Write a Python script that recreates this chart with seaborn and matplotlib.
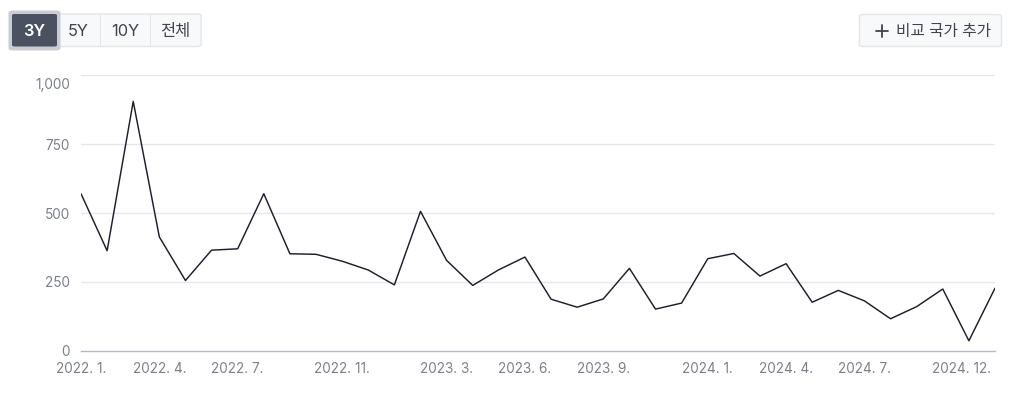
import matplotlib
matplotlib.use("Agg")
import matplotlib.pyplot as plt
import seaborn as sns
import pandas as pd
import numpy as np
from matplotlib.patches import FancyBboxPatch, Rectangle
from matplotlib.lines import Line2D
from matplotlib.transforms import offset_copy

months = [f"{y}-{m:02d}" for y in (2022, 2023, 2024) for m in range(1, 13)]
values = [570, 363, 905, 413, 255, 365, 370, 570, 352, 350, 325, 293,
          239, 506, 328, 237, 294, 340, 187, 158, 188, 299, 151, 173,
          334, 353, 271, 316, 176, 219, 181, 116, 160, 224, 36, 227]
tick_months = ["2022-01", "2022-04", "2022-07", "2022-11", "2023-03", "2023-06",
               "2023-09", "2024-01", "2024-04", "2024-07", "2024-12"]
tick_labels = ["2022. 1.", "2022. 4.", "2022. 7.", "2022. 11.", "2023. 3.", "2023. 6.",
               "2023. 9.", "2024. 1.", "2024. 4.", "2024. 7.", "2024. 12."]
y_ticks = [0, 250, 500, 750, 1000]
y_labels = ["0", "250", "500", "750", "1,000"]
range_buttons = ["3Y", "5Y", "10Y", "전체"]
compare_label = "비교 국가 추가"

sns.set_style("white")
plt.rcParams['font.family'] = ['Inter', 'Noto Sans CJK KR', 'DejaVu Sans']

df = pd.DataFrame({"idx": np.arange(len(months)), "value": values})

W, H = 1026, 415
fig = plt.figure(figsize=(W / 100, H / 100), dpi=100)
ax = fig.add_axes([81 / W, 1 - 350.7 / H, (995 - 81) / W, (350.7 - 75.3) / H])

sns.lineplot(data=df, x="idx", y="value", ax=ax, color="#1c1f2b", linewidth=1.05)

ax.set_xlim(0, len(months) - 1)
ax.set_ylim(0, 1000)
ax.set_yticks(y_ticks)
ax.set_yticklabels(y_labels)
ax.set_xticks([months.index(m) for m in tick_months])
ax.set_xticklabels(tick_labels)
ax.set_xlabel("")
ax.set_ylabel("")

for v in y_ticks[1:]:
    ax.axhline(v, color="#e6e7eb", linewidth=1.0, zorder=0)

for s in ("top", "right", "left"):
    ax.spines[s].set_visible(False)
ax.spines["bottom"].set_color("#b6bac4")
ax.spines["bottom"].set_linewidth(1.0)
ax.tick_params(axis="x", colors="#b6bac4", length=6, width=1.0, pad=2,
               labelcolor="#7b808c", labelsize=9.8)
ax.tick_params(axis="y", length=0, pad=8, labelcolor="#7b808c", labelsize=9.8)

# clamp edge labels inside, as in the reference
ylabs = ax.get_yticklabels()
ylabs[-1].set_transform(offset_copy(ylabs[-1].get_transform(), fig=fig, x=0, y=-8, units="dots"))
xlabs = ax.get_xticklabels()
xlabs[-1].set_horizontalalignment("right")
xlabs[-1].set_transform(offset_copy(xlabs[-1].get_transform(), fig=fig, x=-4, y=0, units="dots"))

# --- UI buttons (figure pixel coordinates) ---
def px_box(x0, y0, x1, y1, fc, ec, lw=1.0, r=4, z=1):
    p = FancyBboxPatch((x0 / W, 1 - y1 / H), (x1 - x0) / W, (y1 - y0) / H,
                       boxstyle=f"round,pad=0,rounding_size={r / W}",
                       transform=fig.transFigure, facecolor=fc, edgecolor=ec,
                       linewidth=lw, zorder=z)
    fig.patches.append(p)

px_box(12, 14, 201, 46.5, "#f8f9fb", "#e3e5e9", lw=1.0, r=4)
for xb in (100, 150):
    fig.patches.append(Rectangle((xb / W, 1 - 46.5 / H), 0.7 / W, 32.5 / H,
                                 transform=fig.transFigure, facecolor="#e3e5e9",
                                 edgecolor="none", zorder=2))
px_box(8.5, 10.5, 60.5, 50.5, "#c9ccd2", "none", lw=0, r=5, z=3)
px_box(12, 14, 57, 46.5, "#4a5262", "none", lw=0, r=3, z=4)

centers = [34.5, 78.5, 125, 175.5]
for i, (lab, cx) in enumerate(zip(range_buttons, centers)):
    fig.text(cx / W, 1 - 31.5 / H, lab, ha="center", va="center",
             fontsize=11.8, color="white" if i == 0 else "#3f4450",
             fontweight="semibold" if i == 0 else "normal", zorder=5)

px_box(859.5, 14.5, 1001.5, 46.5, "#f8f9fb", "#e3e5e9", lw=1.0, r=4)
cx, cy, hs = 881.5, 31.5, 6
fig.lines.append(Line2D([(cx - hs) / W, (cx + hs) / W], [1 - cy / H, 1 - cy / H],
                        transform=fig.transFigure, color="#3f4450", linewidth=1.3, zorder=5))
fig.lines.append(Line2D([cx / W, cx / W], [1 - (cy - hs) / H, 1 - (cy + hs) / H],
                        transform=fig.transFigure, color="#3f4450", linewidth=1.3, zorder=5))
fig.text(896 / W, 1 - 31.5 / H, compare_label, ha="left", va="center",
         fontsize=11.3, color="#3f4450", zorder=5)

fig.patches.append(Rectangle((1022.5 / W, 0), 0.8 / W, 1, transform=fig.transFigure,
                             facecolor="#e8e9ec", edgecolor="none", zorder=0))

fig.savefig("out.png", dpi=100, facecolor="white")
